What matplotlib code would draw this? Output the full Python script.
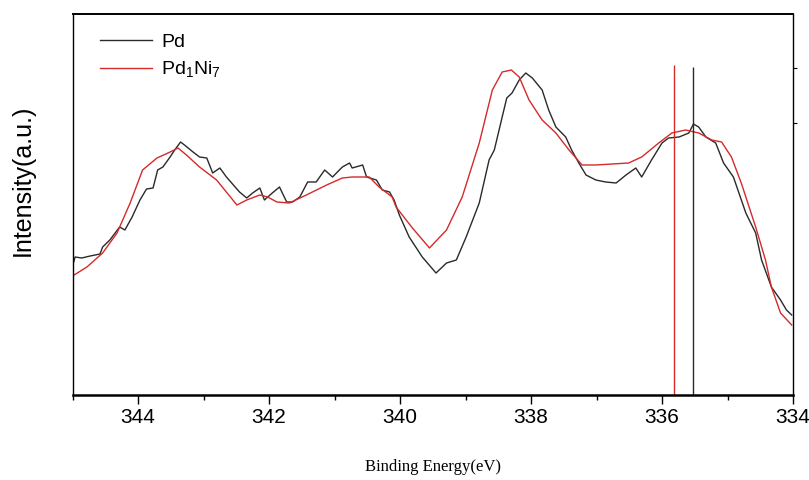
import matplotlib
matplotlib.use("Agg")
import matplotlib.pyplot as plt

plt.rcParams['font.family'] = ['Liberation Sans Narrow', 'Liberation Sans', 'DejaVu Sans']
plt.rcParams['mathtext.default'] = 'regular'

# Pd spectrum (binding energy eV, intensity a.u.)
pd_energy = [345.00, 344.96, 344.86, 344.73, 344.58, 344.54, 344.43, 344.28, 344.20, 344.09,
             343.97, 343.87, 343.77, 343.70, 343.62, 343.51, 343.44, 343.35, 343.29, 343.16,
             343.06, 342.95, 342.86, 342.75, 342.65, 342.45, 342.34, 342.25, 342.14, 342.07,
             341.95, 341.84, 341.73, 341.64, 341.53, 341.41, 341.28, 341.15, 341.03, 340.88,
             340.77, 340.73, 340.57, 340.51, 340.36, 340.27, 340.16, 340.09, 340.01, 339.86,
             339.66, 339.45, 339.29, 339.14, 338.99, 338.79, 338.64, 338.56, 338.44, 338.37,
             338.29, 338.18, 338.08, 337.98, 337.83, 337.73, 337.62, 337.47, 337.38, 337.27,
             337.16, 337.01, 336.86, 336.70, 336.55, 336.40, 336.31, 336.16, 336.00, 335.90,
             335.74, 335.59, 335.52, 335.44, 335.33, 335.18, 335.06, 334.91, 334.72, 334.57,
             334.48, 334.33, 334.19, 334.10, 334.02]
pd_int = [129, 138, 137, 139, 141, 148, 155, 168, 165, 178,
          195, 206, 207, 225, 228, 238, 245, 253, 250, 243,
          238, 237, 222, 227, 218, 203, 197, 202, 207, 195,
          202, 208, 193, 193, 198, 213, 213, 225, 218, 228,
          232, 227, 230, 218, 215, 205, 203, 195, 180, 158,
          138, 122, 132, 135, 158, 192, 235, 245, 278, 297,
          302, 315, 322, 317, 305, 285, 268, 258, 245, 232,
          220, 215, 213, 212, 220, 227, 218, 235, 252, 257,
          258, 262, 271, 268, 258, 252, 232, 218, 182, 162,
          135, 108, 95, 85, 80]

# Pd1Ni7 spectrum
pdni_energy = [345.00, 344.78, 344.54, 344.32, 344.12, 343.93, 343.71, 343.51, 343.39, 343.26,
               343.06, 342.80, 342.49, 342.34, 342.14, 342.02, 341.88, 341.69, 341.43, 341.12,
               340.88, 340.73, 340.47, 340.32, 340.12, 340.06, 339.81, 339.55, 339.29, 339.05,
               338.79, 338.59, 338.44, 338.30, 338.18, 338.03, 337.83, 337.62, 337.42, 337.22,
               337.01, 336.51, 336.31, 336.05, 335.85, 335.64, 335.44, 335.24, 335.09, 334.94,
               334.79, 334.57, 334.42, 334.33, 334.19, 334.02]
pdni_int = [119, 128, 142, 162, 192, 225, 237, 243, 247, 240,
            228, 215, 190, 195, 200, 198, 193, 192, 200, 210,
            217, 218, 218, 208, 198, 188, 167, 147, 165, 198,
            252, 305, 323, 325, 318, 295, 275, 262, 245, 230,
            230, 232, 238, 252, 262, 265, 262, 255, 253, 238,
            212, 168, 135, 108, 82, 70]

peak_pd = 335.53
peak_pdni = 335.81
xticks = [344, 342, 340, 338, 336, 334]

fig = plt.figure(figsize=(8.09, 4.8), dpi=100)
ax = fig.add_axes([72.5 / 809, 85 / 480, 720.5 / 809, 381 / 480])

ax.plot(pd_energy, pd_int, color='#2a2a2a', lw=1.0, label='Pd')
ax.plot(pdni_energy, pdni_int, color='#d42a2a', lw=1.0, label='Pd$_1$Ni$_7$')
ax.vlines(peak_pdni, 0, 330, color='#d42a2a', lw=1.0)
ax.vlines(peak_pd, 0, 328, color='#2a2a2a', lw=1.0)

ax.set_xlim(345, 334)
ax.set_ylim(0, 381)
ax.set_xticks(xticks)
ax.set_xticks([345, 343, 341, 339, 337, 335], minor=True)
ax.tick_params(axis='x', which='major', direction='out', length=6.5, width=1, pad=3, labelsize=15)
ax.tick_params(axis='x', which='minor', direction='out', length=3.5, width=1)

ax.yaxis.set_ticks_position('right')
ax.set_yticks([272, 327])
ax.tick_params(axis='y', direction='out', length=3, width=0.8, labelright=False)

ax.spines['bottom'].set_linewidth(1.8)
ax.spines['top'].set_linewidth(1.4)
ax.spines['left'].set_linewidth(1.0)
ax.spines['right'].set_linewidth(1.0)

ax.set_xlabel('Binding Energy(eV)', family=['Liberation Serif', 'DejaVu Serif'], fontsize=12, labelpad=23)
fig.text(0.028, 0.625, 'Intensity(a.u.)', rotation=90, ha='center', va='center',
         family=['Liberation Sans', 'DejaVu Sans'], fontsize=18)

ax.legend(loc='upper left', bbox_to_anchor=(0.038, 0.95), frameon=False, fontsize=14,
          borderaxespad=0, borderpad=0, handlelength=2.7, handletextpad=0.45, labelspacing=0.45)

fig.savefig('out.png', dpi=100, facecolor='white')
